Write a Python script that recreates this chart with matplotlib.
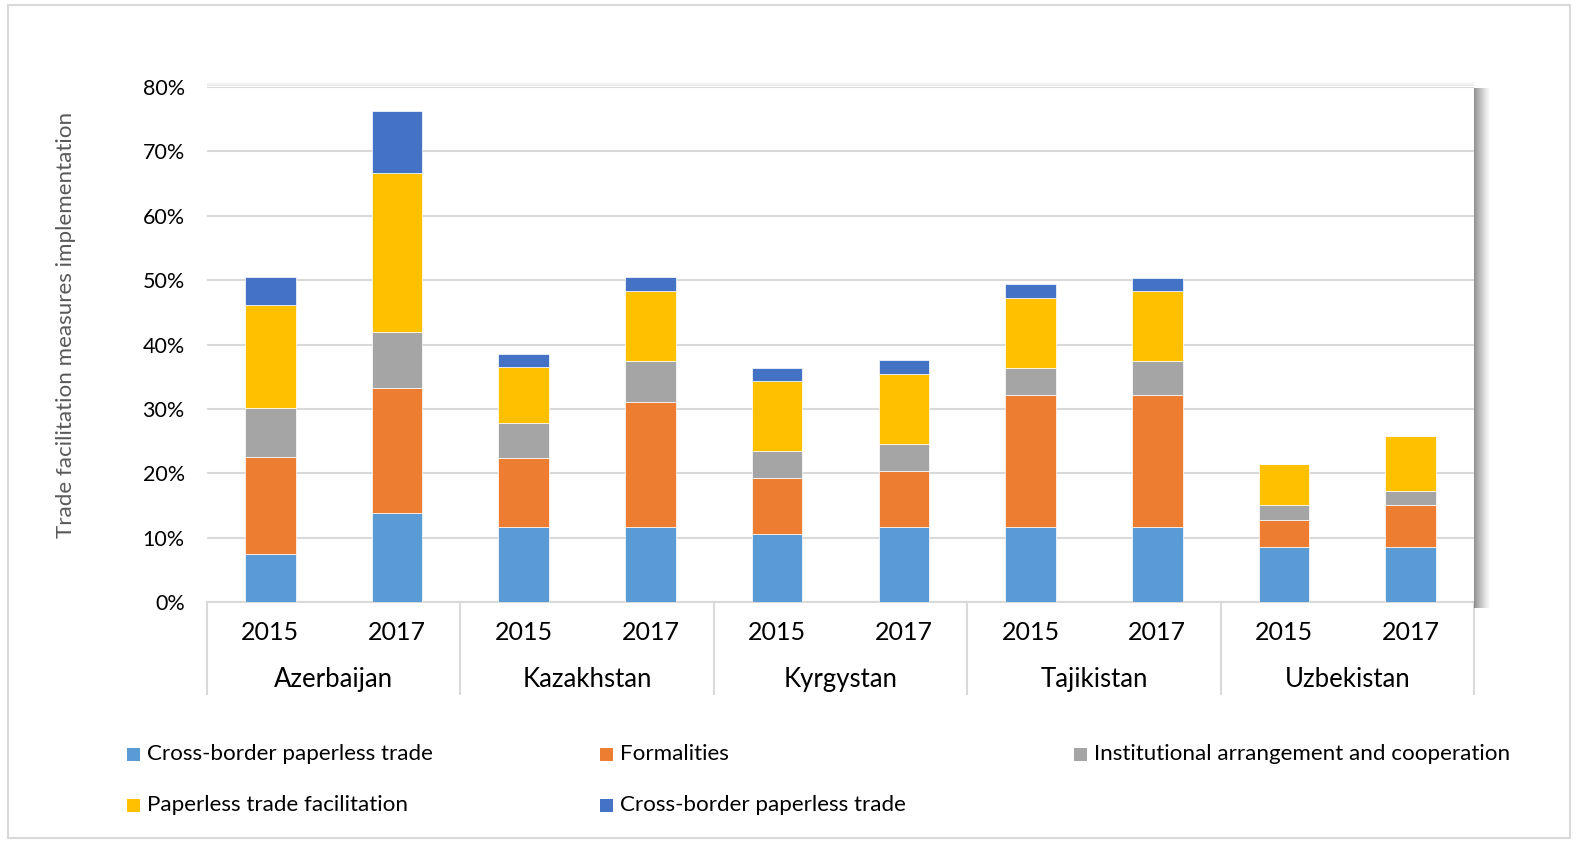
import matplotlib
matplotlib.use("Agg")
import matplotlib.pyplot as plt
import matplotlib.transforms as mtransforms
from matplotlib.patches import Rectangle
import numpy as np

plt.rcParams['font.family'] = ['Lato', 'DejaVu Sans']

countries = ["Azerbaijan", "Kazakhstan", "Kyrgystan", "Tajikistan", "Uzbekistan"]
years = ["2015", "2017"]
series_names = ["Cross-border paperless trade", "Formalities",
                "Institutional arrangement and cooperation",
                "Paperless trade facilitation", "Cross-border paperless trade"]
colors = ["#5B9BD5", "#ED7D31", "#A5A5A5", "#FFC000", "#4472C4"]

# values in %, order: Az15, Az17, Kz15, Kz17, Kg15, Kg17, Tj15, Tj17, Uz15, Uz17
cross_border_1 = [7.4, 13.9, 11.7, 11.7, 10.6, 11.7, 11.7, 11.7, 8.5, 8.5]
formalities = [15.1, 19.3, 10.7, 19.3, 8.6, 8.6, 20.4, 20.4, 4.3, 6.5]
institutional = [7.6, 8.7, 5.4, 6.5, 4.3, 4.3, 4.3, 5.4, 2.2, 2.2]
paperless = [16.0, 24.7, 8.7, 10.8, 10.8, 10.8, 10.8, 10.8, 6.5, 8.6]
cross_border_2 = [4.4, 9.7, 2.1, 2.2, 2.1, 2.2, 2.2, 2.1, 0.0, 0.0]

series = [cross_border_1, formalities, institutional, paperless, cross_border_2]

W, H = 1581, 841
fig = plt.figure(figsize=(W / 100, H / 100), dpi=100)

# outer border
fig.patches.append(Rectangle((8 / W, 1 - 838 / H), (1570 - 8) / W, (838 - 5) / H,
                             transform=fig.transFigure, fill=False,
                             edgecolor="#D9D9D9", linewidth=1.5))

L, R, T, B = 207, 1474, 87, 602
ax = fig.add_axes([L / W, 1 - B / H, (R - L) / W, (B - T) / H])

# shadow on right side and top of plot area
for i in range(16):
    a = 0.75 * (1 - i / 16) ** 1.2
    fig.patches.append(Rectangle(((R + i) / W, 1 - (B + 6) / H), 1 / W, (B + 6 - T - 1) / H,
                                 transform=fig.transFigure, facecolor="#6E6E6E",
                                 edgecolor="none", alpha=a, zorder=0))
for i in range(4):
    a = 0.2 * (1 - i / 4)
    fig.patches.append(Rectangle((L / W, 1 - (T - 1 - i) / H), (R - L) / W, 1 / H,
                                 transform=fig.transFigure, facecolor="#9A9A9A",
                                 edgecolor="none", alpha=a, zorder=0))

n = len(countries) * len(years)
x = np.arange(n)
bottom = np.zeros(n)
for vals, col in zip(series, colors):
    v = np.array(vals)
    ax.bar(x, v, width=0.4, bottom=bottom, color=col, edgecolor="#FFFFFF",
           linewidth=0.5, zorder=3)
    bottom += v

ax.set_xlim(-0.5, n - 0.5)
ax.set_ylim(0, 80)
ax.set_yticks(np.arange(0, 81, 10))
ax.set_yticklabels([f"{t}%" for t in range(0, 81, 10)], fontsize=15.5, color="#000000")
ax.yaxis.grid(True, color="#D9D9D9", linewidth=1.5, zorder=0)
ax.set_axisbelow(True)
ax.tick_params(axis="y", length=0, pad=16)
ax.tick_params(axis="x", length=0, pad=14)
ax.set_xticks(x)
ax.set_xticklabels([years[i % 2] for i in range(n)], fontsize=18, color="#000000")
for s in ["top", "right", "left"]:
    ax.spines[s].set_visible(False)
ax.spines["bottom"].set_color("#D9D9D9")
ax.spines["bottom"].set_linewidth(1.5)

trans = mtransforms.blended_transform_factory(ax.transData, ax.transAxes)
for k in range(len(countries) + 1):
    xs = k * 2 - 0.5
    ax.plot([xs, xs], [0, -0.1786], transform=trans, color="#D9D9D9",
            linewidth=1.5, clip_on=False)
for k, c in enumerate(countries):
    ax.text(k * 2 + 0.5, -0.15, c, transform=trans, ha="center", va="center",
            fontsize=18.5, color="#000000")

fig.text(66 / W, 1 - 325 / H, "Trade facilitation measures implementation",
         rotation=90, ha="center", va="center", fontsize=16.1, color="#595959")

# legend
col_x = [127, 600, 1074]
row_y = [754, 805]
for i, (name, col) in enumerate(zip(series_names, colors)):
    cx = col_x[i % 3]
    cy = row_y[i // 3]
    fig.patches.append(Rectangle((cx / W, 1 - (cy + 7) / H), 13 / W, 13 / H,
                                 transform=fig.transFigure, facecolor=col,
                                 edgecolor="none"))
    fig.text((cx + 20) / W, 1 - cy / H, name, ha="left", va="center",
             fontsize=16.1, color="#000000")

fig.savefig("out.png", dpi=100)
